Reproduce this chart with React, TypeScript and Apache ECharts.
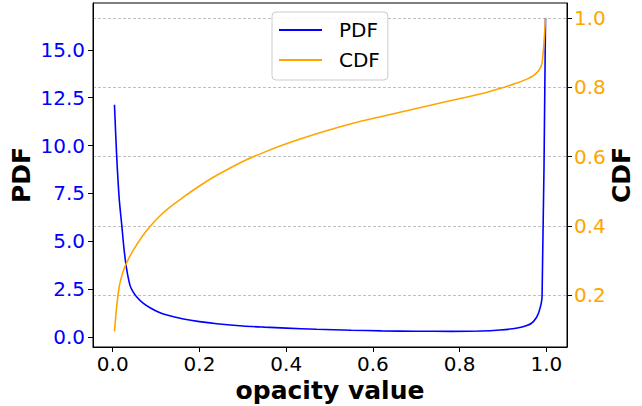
import React, { useEffect, useRef } from "react";
import * as echarts from "echarts";

const xValues = [0.004, 0.009, 0.015, 0.021, 0.026, 0.032, 0.04, 0.047, 0.055, 0.07, 0.086, 0.105, 0.125, 0.163, 0.2, 0.24, 0.3, 0.35, 0.4, 0.47, 0.55, 0.62, 0.7, 0.78, 0.85, 0.893, 0.93, 0.955, 0.97, 0.982, 0.99, 0.998];
const pdfValues = [12.13, 9.5, 7.2, 5.8, 4.6, 3.55, 2.68, 2.35, 2.1, 1.76, 1.52, 1.3, 1.14, 0.94, 0.8, 0.69, 0.57, 0.51, 0.46, 0.4, 0.35, 0.315, 0.295, 0.29, 0.305, 0.36, 0.45, 0.59, 0.8, 1.25, 2.12, 16.65];
const cdfValues = [0.095, 0.165, 0.224, 0.256, 0.275, 0.293, 0.313, 0.329, 0.345, 0.373, 0.398, 0.424, 0.447, 0.483, 0.515, 0.546, 0.586, 0.613, 0.637, 0.666, 0.695, 0.716, 0.739, 0.762, 0.782, 0.797, 0.812, 0.824, 0.834, 0.848, 0.87, 1.0];
const xTicks = [0, 0.2, 0.4, 0.6, 0.8, 1.0];
const pdfTicks = [0, 2.5, 5, 7.5, 10, 12.5, 15];
const cdfTicks = [0.2, 0.4, 0.6, 0.8, 1.0];
const seriesNames = ["PDF", "CDF"];
const axisTitles = { x: "opacity value", left: "PDF", right: "CDF" };

export default function App() {
  const ref = useRef<HTMLDivElement>(null);
  useEffect(() => {
    const chart = echarts.init(ref.current!, null, { renderer: "svg" });
    const font = "DejaVu Sans";
    const fmt = (v: number) => Number(v).toFixed(1);
    const tick = { show: true, length: 5, inside: false, lineStyle: { color: "#000", width: 1 } };
    chart.setOption({
      animation: false,
      backgroundColor: "#fff",
      grid: { left: 93, top: 3, right: 75, bottom: 59, show: true, borderColor: "#000", borderWidth: 1, backgroundColor: "transparent" },
      legend: {
        data: seriesNames,
        orient: "vertical",
        left: 272,
        top: 12,
        icon: "rect",
        itemWidth: 43,
        itemHeight: 2,
        itemGap: 10,
        padding: [8, 8, 10, 7],
        backgroundColor: "rgba(255,255,255,0.85)",
        borderColor: "#cccccc",
        borderWidth: 1,
        borderRadius: 4,
        selectedMode: false,
        textStyle: { fontFamily: font, fontSize: 20, color: "#000", padding: [0, 0, 0, 12] },
      },
      xAxis: {
        type: "value",
        min: -0.0455,
        max: 1.0475,
        axisLine: { show: true, onZero: false, lineStyle: { color: "#000", width: 1 } },
        axisTick: { ...tick, customValues: xTicks },
        axisLabel: { customValues: xTicks, formatter: fmt, fontFamily: font, fontSize: 20, color: "#000", margin: 7 },
        splitLine: { show: false },
      },
      yAxis: [
        {
          type: "value",
          position: "left",
          min: -0.528,
          max: 17.45,
          axisLine: { show: true, onZero: false, lineStyle: { color: "#000", width: 1 } },
          axisTick: { ...tick, customValues: pdfTicks },
          axisLabel: { customValues: pdfTicks, formatter: fmt, fontFamily: font, fontSize: 20, color: "#0000ff", margin: 8 },
          splitLine: { show: false },
        },
        {
          type: "value",
          position: "right",
          min: 0.0498,
          max: 1.044,
          axisLine: { show: true, onZero: false, lineStyle: { color: "#000", width: 1 } },
          axisTick: { ...tick, customValues: cdfTicks },
          axisLabel: { customValues: cdfTicks, formatter: fmt, fontFamily: font, fontSize: 20, color: "#ffa500", margin: 7 },
          splitLine: { show: true, lineStyle: { color: "#b0b0b0", width: 0.8, type: [3, 2] } },
        },
      ],
      series: [
        {
          name: seriesNames[0],
          type: "line",
          yAxisIndex: 0,
          showSymbol: false,
          smooth: 0.25,
          data: xValues.map((x, i) => [x, pdfValues[i]]),
          lineStyle: { color: "#0000ff", width: 1.6 },
          itemStyle: { color: "#0000ff" },
        },
        {
          name: seriesNames[1],
          type: "line",
          yAxisIndex: 1,
          showSymbol: false,
          smooth: 0.25,
          data: xValues.map((x, i) => [x, cdfValues[i]]),
          lineStyle: { color: "#ffa500", width: 1.6 },
          itemStyle: { color: "#ffa500" },
        },
      ],
      graphic: [
        { type: "text", x: 21.7, y: 175, rotation: Math.PI / 2, style: { text: axisTitles.left, fontFamily: font, fontSize: 25, fontWeight: "bold", fill: "#000", align: "center", verticalAlign: "middle" } },
        { type: "text", x: 621.2, y: 175, rotation: Math.PI / 2, style: { text: axisTitles.right, fontFamily: font, fontSize: 25, fontWeight: "bold", fill: "#000", align: "center", verticalAlign: "middle" } },
        { type: "text", x: 330, y: 390, style: { text: axisTitles.x, fontFamily: font, fontSize: 25, fontWeight: "bold", fill: "#000", align: "center", verticalAlign: "middle" } },
      ],
    });
    return () => chart.dispose();
  }, []);
  return <div ref={ref} style={{ position: "absolute", left: 0, top: 0, width: 642, height: 406 }} />;
}
